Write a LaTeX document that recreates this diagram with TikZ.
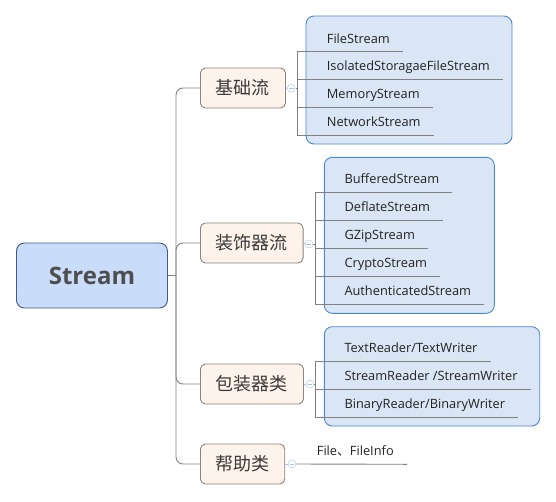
\documentclass[tikz,border=0pt]{standalone}
\usepackage{fontspec}
\setmainfont{Open Sans}
\newfontfamily\cjk{Noto Sans CJK SC}
\definecolor{rootfill}{HTML}{C9DCF9}
\definecolor{rootline}{HTML}{43598A}
\definecolor{branchfill}{HTML}{FDF3EA}
\definecolor{branchline}{HTML}{8C8280}
\definecolor{groupfill}{HTML}{DAE6F5}
\definecolor{groupline}{HTML}{4C88D0}
\definecolor{connline}{HTML}{808080}
\definecolor{markblue}{HTML}{A8C0E8}
\definecolor{textgray}{HTML}{3A3A3A}
\definecolor{leaftext}{HTML}{222222}
\tikzset{
  conn/.style={draw=connline,line width=0.9pt},
  groupbox/.style={draw=groupline,fill=groupfill,line width=0.9pt,rounded corners=8pt},
  marker/.style={circle,draw=markblue,fill=white,inner sep=0pt,minimum size=8pt,
    path picture={\draw[markblue] ([xshift=-2.2pt]path picture bounding box.center)
      -- ([xshift=2.2pt]path picture bounding box.center);}},
  leaf/.style={anchor=south west,inner xsep=13pt,inner ysep=0pt,minimum height=23pt,
    text height=9pt,text depth=3pt,text=leaftext,font=\fontsize{12.8}{14}\selectfont}
}
\begin{document}
\begin{tikzpicture}[x=1pt,y=-1pt]
\useasboundingbox (0,0) rectangle (556,501);

% blue group boxes behind the leaves
\path[groupbox] (306,16) rectangle (512,144);
\path[groupbox] (324.3,157.3) rectangle (494.3,313.3);
\path[groupbox] (324.3,326.7) rectangle (539.7,426);

\node (stream) [anchor=west,draw=rootline,fill=rootfill,line width=0.9pt,rounded corners=8pt,
  minimum width=151pt,minimum height=65pt,inner sep=0pt,text=textgray!90,
  font=\bfseries\fontsize{24}{24}\selectfont] at (16,275.5) {Stream};

\begin{scope}[every node/.style={anchor=west,draw=branchline,fill=branchfill,line width=0.9pt,
    rounded corners=5pt,minimum height=40pt,inner sep=0pt,text=textgray,
    font=\cjk\fontsize{18}{18}\selectfont}]
  \node (jichu)  at (200,88)  [minimum width=85pt]  {基础流};
  \node (zhuangshi) at (200,243) [minimum width=102.6pt] {装饰器流};
  \node (baozhuang) at (200,384) [minimum width=103pt] {包装器类};
  \node (bangzhu) at (200,464) [minimum width=84.3pt] {帮助类};
\end{scope}

\begin{scope}[every node/.style={marker}]
  \node (m1) at (291.3,88.3) {};
  \node (m2) at (309,244)    {};
  \node (m3) at (310,384)    {};
  \node (m4) at (292,464)    {};
\end{scope}

\coordinate (trunk) at (176,275.5);
\coordinate (v1) at (297.3,88.3);
\coordinate (v2) at (315.3,244);
\coordinate (v3) at (315.3,384);

% leaves
\begin{scope}[every node/.style={leaf}]
  \node (fs)   at (313.7,51.7)  {FileStream};
  \node (isfs) at (313.7,79.3)  {IsolatedStoragaeFileStream};
  \node (ms)   at (313.7,107.3) {MemoryStream};
  \node (ns)   at (313.7,135)   {NetworkStream};

  \node (bs)   at (331.3,192.3) {BufferedStream};
  \node (ds)   at (331.3,220.3) {DeflateStream};
  \node (gs)   at (331.3,248.3) {GZipStream};
  \node (cs)   at (331.3,276.3) {CryptoStream};
  \node (as)   at (331.3,304)   {AuthenticatedStream};

  \node (trtw) at (331.3,361.3) {TextReader/TextWriter};
  \node (srsw) at (331.3,389.3) {StreamReader /StreamWriter};
  \node (brbw) at (331.3,417.3) {BinaryReader/BinaryWriter};

  \node (fi)   at (303.7,464.3) {File{\cjk 、}FileInfo};
\end{scope}

% trunk and branches
\draw[conn] (stream.east) -- (trunk);
\begin{scope}[rounded corners=7pt]
  \path (trunk) edge[conn,to path={|- (\tikztotarget)}] (jichu.west);
  \path (trunk) edge[conn,to path={|- (\tikztotarget)}] (zhuangshi.west);
  \path (trunk) edge[conn,to path={|- (\tikztotarget)}] (baozhuang.west);
  \path (trunk) edge[conn,to path={|- (\tikztotarget)}] (bangzhu.west);
\end{scope}

\begin{scope}[every edge/.style={draw=markblue,line width=0.8pt}]
  \path (jichu.east) edge (m1.west);
  \path (zhuangshi.east) edge (m2.west);
  \path (baozhuang.east) edge (m3.west);
  \path (bangzhu.east) edge (m4.west);
\end{scope}

\begin{scope}[every edge/.style={conn}]
  \path (m1.east) edge (v1);
  \path (m2.east) edge (v2);
  \path (m3.east) edge (v3);
  \path (m4.east) edge (fi.south east);
\end{scope}

\begin{scope}[every edge/.style={conn,to path={|- (\tikztotarget)}}]
  \path (v1) edge (fs.south east);
  \path (v1) edge (isfs.south east);
  \path (v1) edge (ms.south east);
  \path (v1) edge (ns.south east);
  \path (v2) edge (bs.south east);
  \path (v2) edge (ds.south east);
  \path (v2) edge (gs.south east);
  \path (v2) edge (cs.south east);
  \path (v2) edge (as.south east);
  \path (v3) edge (trtw.south east);
  \path (v3) edge (srsw.south east);
  \path (v3) edge (brbw.south east);
\end{scope}

\end{tikzpicture}
\end{document}
